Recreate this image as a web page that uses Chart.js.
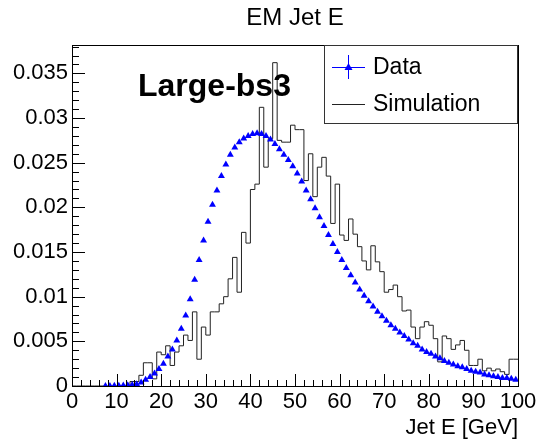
<!DOCTYPE html>
<html>
<head>
<meta charset="utf-8">
<script src="https://cdn.jsdelivr.net/npm/chart.js@4.4.1/dist/chart.umd.min.js"></script>
<style>
  html, body { margin: 0; padding: 0; background: #fff; }
  canvas { display: block; }
</style>
</head>
<body>
<canvas id="jetChart" width="541" height="443"></canvas>
<script>
// Simulation histogram, 1 GeV bins starting at 0 GeV
const simBinStart = 0;
const simBinWidth = 1;
const simValues = [
  0, 0, 0, 0, 0, 0, 0, 0, 0, 0,
  0, 0, 0, 0, 0.0005, 0.0005, 0.0012, 0.0026, 0.0026, 0.0008,
  0.0038, 0.0035, 0.0045, 0.0023, 0.0038, 0.0045, 0.0057, 0.0051, 0.0083, 0.0030,
  0.0066, 0.0057, 0.0083, 0.0083, 0.0092, 0.0100, 0.0120, 0.0144, 0.0105, 0.0172,
  0.0160, 0.0220, 0.0226, 0.0312, 0.0245, 0.0277, 0.0362, 0.0275, 0.0273, 0.0273,
  0.0292, 0.0287, 0.0287, 0.0230, 0.0260, 0.0212, 0.0245, 0.0256, 0.0235, 0.0182,
  0.0226, 0.0169, 0.0163, 0.0187, 0.0170, 0.0156, 0.0140, 0.0130, 0.0157, 0.0139,
  0.0128, 0.0105, 0.0108, 0.0113, 0.0100, 0.0084, 0.0085, 0.0066, 0.0053, 0.0066,
  0.0072, 0.0068, 0.0053, 0.0027, 0.0056, 0.0053, 0.0041, 0.0046, 0.0051, 0.0040,
  0.0023, 0.0023, 0.0030, 0.0017, 0.0020, 0.0017, 0.0019, 0.0016, 0.0013, 0.0030
];

// Data points, one per 1 GeV bin centre starting at 7.5 GeV
const dataStart = 7.5;
const dataValues = [
  0.0000, 0.0000, 0.00002, 0.00003, 0.00005, 0.00008, 0.00012, 0.0002, 0.0004, 0.0007,
  0.0010, 0.0014, 0.0019, 0.0025, 0.0033, 0.0041, 0.0051, 0.0064, 0.0079, 0.0097,
  0.0119, 0.0141, 0.0163, 0.0184, 0.0203, 0.0219, 0.0235, 0.0248, 0.0259, 0.0267,
  0.0273, 0.0277, 0.0280, 0.0282, 0.0283, 0.0282, 0.0280, 0.0276, 0.0271, 0.0265,
  0.0259, 0.0253, 0.0246, 0.0238, 0.0229, 0.0219, 0.0209, 0.0199, 0.0189, 0.0179,
  0.0169, 0.0159, 0.0150, 0.0141, 0.0132, 0.0124, 0.0116, 0.0108, 0.0101, 0.0095,
  0.0089, 0.0083, 0.0078, 0.0073, 0.0068, 0.0064, 0.0060, 0.0056, 0.0052, 0.0048,
  0.0045, 0.0041, 0.0038, 0.0036, 0.0033, 0.0031, 0.0028, 0.0026, 0.0024, 0.0022,
  0.0021, 0.0019, 0.0017, 0.0016, 0.0015, 0.0013, 0.0012, 0.0011, 0.0010, 0.0009,
  0.0009, 0.0008, 0.0007
];

const xTicks = [0, 10, 20, 30, 40, 50, 60, 70, 80, 90, 100];
const yTicks = [0, 0.005, 0.01, 0.015, 0.02, 0.025, 0.03, 0.035];
const yTickLabels = ['0', '0.005', '0.01', '0.015', '0.02', '0.025', '0.03', '0.035'];

const X_MAX = 100;
const Y_MAX = 0.0382;

// step outline needs the right edge of the last bin too
const simPoints = simValues.map((v, i) => ({ x: simBinStart + i * simBinWidth, y: v }));
simPoints.push({ x: simBinStart + simValues.length * simBinWidth, y: simValues[simValues.length - 1] });
const dataPoints = dataValues.map((v, i) => ({ x: dataStart + i, y: v }));

const FONT = "'Liberation Sans', Arial, Helvetica, sans-serif";

// ROOT look: frame, inward ticks, legend box, label
const rootStyle = {
  id: 'rootStyle',
  afterDatasetsDraw(chart) {
    const { ctx, chartArea: a, scales: { x, y } } = chart;
    ctx.save();
    ctx.strokeStyle = '#000';
    ctx.lineWidth = 1;
    ctx.strokeRect(Math.round(a.left) + 0.5, Math.round(a.top) + 0.5,
      Math.round(a.right - a.left), Math.round(a.bottom - a.top));

    ctx.beginPath();
    for (let k = 0; k <= 50; k++) {
      const px = Math.round(x.getPixelForValue(k * 2)) + 0.5;
      const len = k % 5 === 0 ? 12 : 6;
      ctx.moveTo(px, a.bottom);
      ctx.lineTo(px, a.bottom - len);
    }
    for (let k = 0; k * 0.001 <= Y_MAX; k++) {
      const py = Math.round(y.getPixelForValue(k * 0.001)) + 0.5;
      const len = k % 5 === 0 ? 13 : 7;
      ctx.moveTo(a.left, py);
      ctx.lineTo(a.left + len, py);
    }
    ctx.stroke();

    ctx.fillStyle = '#000';
    ctx.font = 'bold 32px ' + FONT;
    ctx.textAlign = 'left';
    ctx.textBaseline = 'middle';
    ctx.fillText('Large-bs3', 138, 87);
    ctx.restore();
  },
  afterDraw(chart) {
    const { ctx } = chart;
    const ds = chart.data.datasets;
    ctx.save();
    ctx.fillStyle = '#fff';
    ctx.fillRect(325, 46, 193, 78);
    ctx.strokeStyle = '#333';
    ctx.lineWidth = 1;
    ctx.strokeRect(324.5, 45.5, 193, 78);

    // Data entry
    ctx.strokeStyle = '#0000ff';
    ctx.beginPath();
    ctx.moveTo(332, 67.5); ctx.lineTo(365, 67.5);
    ctx.moveTo(348.5, 55); ctx.lineTo(348.5, 79);
    ctx.stroke();
    ctx.fillStyle = '#0000ff';
    ctx.beginPath();
    ctx.moveTo(348.5, 63); ctx.lineTo(352.5, 70); ctx.lineTo(344.5, 70);
    ctx.closePath();
    ctx.fill();

    // Simulation entry
    ctx.strokeStyle = '#222';
    ctx.beginPath();
    ctx.moveTo(332, 104.5); ctx.lineTo(365, 104.5);
    ctx.stroke();

    ctx.fillStyle = '#000';
    ctx.font = '23px ' + FONT;
    ctx.textAlign = 'left';
    ctx.textBaseline = 'middle';
    ctx.fillText(ds[1].label, 373, 68);
    ctx.fillText(ds[0].label, 373, 105);
    ctx.restore();
  }
};

new Chart(document.getElementById('jetChart'), {
  type: 'scatter',
  data: {
    datasets: [{
      label: 'Simulation',
      data: simPoints,
      showLine: true,
      stepped: 'after',
      borderColor: '#222',
      borderWidth: 1,
      pointRadius: 0,
      fill: false,
      order: 1
    }, {
      label: 'Data',
      data: dataPoints,
      pointStyle: 'triangle',
      pointRadius: 4,
      backgroundColor: '#0000ff',
      borderColor: '#0000ff',
      borderWidth: 0,
      order: 0
    }]
  },
  options: {
    responsive: false,
    animation: false,
    devicePixelRatio: 1,
    layout: { padding: { left: 0, right: 23, top: 0, bottom: 0 } },
    plugins: {
      legend: { display: false },
      tooltip: { enabled: false },
      title: {
        display: true,
        text: 'EM Jet E',
        color: '#000',
        fullSize: false,
        font: { family: FONT, size: 24, weight: 'normal' },
        padding: { top: 4, bottom: 12 }
      }
    },
    scales: {
      x: {
        type: 'linear',
        min: 0,
        max: X_MAX,
        afterBuildTicks: s => { s.ticks = xTicks.map(v => ({ value: v })); },
        afterFit: s => { s.height = 57; },
        grid: { display: false, drawTicks: false },
        border: { display: false },
        ticks: {
          color: '#000',
          font: { family: FONT, size: 22 },
          padding: 3,
          maxRotation: 0,
          autoSkip: false
        },
        title: {
          display: true,
          text: 'Jet E [GeV]',
          align: 'end',
          color: '#000',
          font: { family: FONT, size: 22 },
          padding: { top: 0, bottom: 2 }
        }
      },
      y: {
        type: 'linear',
        min: 0,
        max: Y_MAX,
        afterBuildTicks: s => { s.ticks = yTicks.map(v => ({ value: v })); },
        afterFit: s => { s.width = 72; },
        grid: { display: false, drawTicks: false },
        border: { display: false },
        ticks: {
          color: '#000',
          font: { family: FONT, size: 22 },
          padding: 4,
          callback: (v, i) => yTickLabels[i]
        }
      }
    }
  },
  plugins: [rootStyle]
});
</script>
</body>
</html>
